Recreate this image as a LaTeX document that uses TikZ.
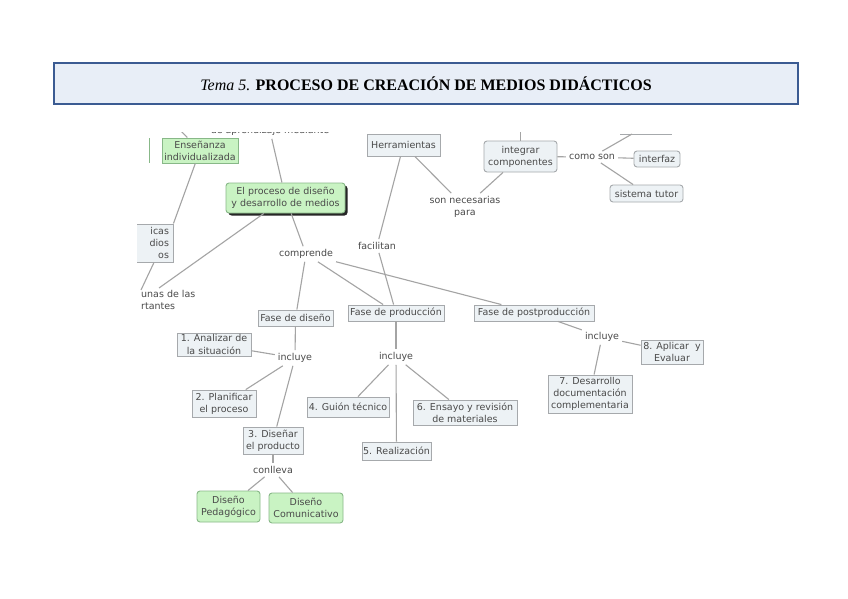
\documentclass[tikz,border=0pt]{standalone}
\usepackage{fontspec}
\setmainfont{Liberation Serif}
\newfontfamily\mapfont{DejaVu Sans}
\usetikzlibrary{shadows}
\definecolor{titleblue}{HTML}{3B5B92}
\definecolor{titlefill}{HTML}{E8EEF7}
\definecolor{boxfill}{HTML}{EDF2F5}
\definecolor{boxline}{HTML}{A6A9AC}
\definecolor{greenfill}{HTML}{C9F3C3}
\definecolor{greenline}{HTML}{88B888}
\definecolor{maptext}{HTML}{4A4A4A}
\definecolor{connline}{HTML}{A4A4A4}
\begin{document}
\begin{tikzpicture}[x=1pt,y=-1pt,
  mapfnt/.style={font=\mapfont\fontsize{9.5}{12.2}\selectfont, text=maptext},
  mapbox/.style={mapfnt, draw=boxline, fill=boxfill, line width=0.9pt, align=center, inner sep=1pt},
  greenbox/.style={mapbox, draw=greenline, fill=greenfill},
  roundbox/.style={rounded corners=3pt},
  maplbl/.style={mapfnt, align=center, inner sep=3pt},
  conn/.style={draw=connline, line width=1.1pt},
  titlebox/.style={draw=titleblue, line width=2.4pt, fill=titlefill, minimum width=744, minimum height=41, inner sep=0pt}
]
\useasboundingbox (0,0) rectangle (848,599);
\fill[white] (0,0) rectangle (848,599);

% title
\node[titlebox] (title) at (426,83.5)
  {\fontsize{16}{19}\selectfont{\itshape Tema 5.} {\bfseries PROCESO DE CREACIÓN DE MEDIOS DIDÁCTICOS}};

\begin{scope}
\clip (137,132.5) rectangle (706,530);

% fragments at the borders of the screenshot
\node[maplbl] (toptext) at (270,131) {de aprendizaje mediante};
\draw[greenline, line width=0.9pt] (149,138) -- (149,163);
\coordinate (ensT) at (176,126);
\coordinate (integT) at (520.5,125);
\coordinate (topboxL) at (620,134);
\coordinate (topboxR) at (672,134);
\coordinate (topbox) at (632,134);
\coordinate (unasT) at (159,288);
\draw[boxline, line width=0.9pt] (topboxL) -- (topboxR);

% nodes
\node[greenbox, minimum width=76, minimum height=25] (ens) at (200,150.5) {Enseñanza\\individualizada};
\node[mapbox, minimum width=38, minimum height=38, text width=30, align=right, inner xsep=3pt] (lb) at (154,243) {icas\\dios\\os};
\node[maplbl, anchor=north west, align=left, inner sep=0pt] (unas) at (141,290) {unas de las\\rtantes};
\node[greenbox, roundbox, minimum width=119, minimum height=30,
      drop shadow={shadow xshift=2.5pt, shadow yshift=-2.5pt, fill=black!85, opacity=1}] (ep) at (285.5,198) {El proceso de diseño\\y desarrollo de medios};
\node[maplbl] (comp) at (306,254) {comprende};
\node[mapbox, minimum width=73, minimum height=22] (herr) at (403.5,145) {Herramientas};
\node[maplbl] (fac) at (377,246) {facilitan};
\node[maplbl] (son) at (465,207) {son necesarias\\para};
\node[mapbox, roundbox, minimum width=73, minimum height=31] (integ) at (520.5,156.5) {integrar\\componentes};
\node[maplbl] (como) at (592,157) {como son};
\node[mapbox, roundbox, minimum width=46, minimum height=16] (intf) at (657,159) {interfaz};
\node[mapbox, roundbox, minimum width=73, minimum height=17] (sist) at (646.5,193.5) {sistema tutor};

\node[mapbox, minimum width=75, minimum height=16] (fd) at (295.5,318) {Fase de diseño};
\node[mapbox, minimum width=96, minimum height=16] (fp) at (396,313) {Fase de producción};
\node[mapbox, minimum width=120, minimum height=16] (fpp) at (534,313) {Fase de postproducción};

\node[maplbl] (inc1) at (295,358) {incluye};
\node[mapbox, minimum width=74, minimum height=23] (an) at (214,344.5) {1. Analizar de\\la situación};
\node[mapbox, minimum width=64, minimum height=27] (pl) at (224,403.5) {2. Planificar\\el proceso};
\node[mapbox, minimum width=60, minimum height=27] (dis) at (273,440.5) {3. Diseñar\\el producto};
\node[maplbl] (conl) at (273,470) {conlleva};
\node[greenbox, roundbox, minimum width=63, minimum height=31] (dped) at (228.5,506.5) {Diseño\\Pedagógico};
\node[greenbox, roundbox, minimum width=74, minimum height=30] (dcom) at (306,508) {Diseño\\Comunicativo};

\node[maplbl] (inc2) at (396,357) {incluye};
\node[mapbox, minimum width=82, minimum height=20] (gt) at (348,407) {4. Guión técnico};
\node[mapbox, minimum width=69, minimum height=18] (real) at (396.5,451) {5. Realización};
\node[mapbox, minimum width=104, minimum height=25] (ensy) at (465,412.5) {6. Ensayo y revisión\\de materiales};

\node[maplbl] (inc3) at (602,337) {incluye};
\node[mapbox, minimum width=62, minimum height=24] (apl) at (672,352) {8. Aplicar~~y\\Evaluar};
\node[mapbox, minimum width=84, minimum height=38] (desa) at (590,394) {7. Desarrollo\\documentación\\complementaria};

% connectors
\draw[conn] (toptext) -- (ep);
\draw[conn] (ens) -- (ensT);
\draw[conn] (ens) -- (lb.north east);
\draw[conn] (lb.south) -- (unas.north west);
\draw[conn] (ep) -- (unasT);
\draw[conn] (ep) -- (comp);
\draw[conn] (comp) -- (fd);
\draw[conn] (comp) -- (fp);
\draw[conn] (comp) -- (fpp);
\draw[conn] (herr) -- (fac);
\draw[conn] (fac) -- (fp);
\draw[conn] (herr) -- (son);
\draw[conn] (son) -- (integ);
\draw[conn] (integ) -- (integT);
\draw[conn] (integ) -- (como);
\draw[conn] (como) -- (topbox);
\draw[conn] (como) -- (intf);
\draw[conn] (como) -- (sist);
\draw[conn] (fd) -- (inc1);
\draw[conn] (inc1) -- (an);
\draw[conn] (inc1) -- (pl);
\draw[conn] (inc1) -- (dis);
\draw[conn] (dis) -- (conl);
\draw[conn] (conl) -- (dped);
\draw[conn] (conl) -- (dcom);
\draw[conn] (fp) -- (inc2);
\draw[conn] (inc2) -- (gt);
\draw[conn] (inc2) -- (real);
\draw[conn] (inc2) -- (ensy);
\draw[conn] (fpp) -- (inc3);
\draw[conn] (inc3) -- (apl);
\draw[conn] (inc3) -- (desa);
\end{scope}
\end{tikzpicture}
\end{document}
